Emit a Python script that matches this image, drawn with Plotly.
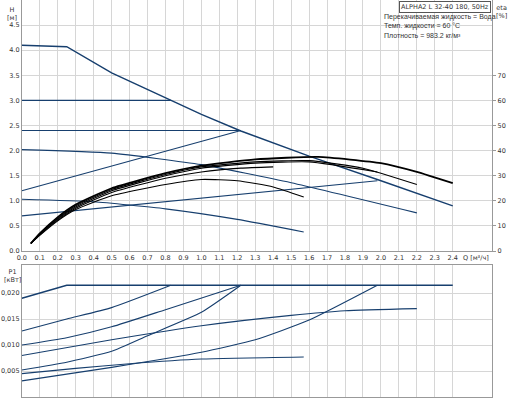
import plotly.graph_objects as go

# --- напор H [м] ---
q_max = [0, 0.25, 0.5, 0.83, 1.0, 1.22, 1.6, 2.0, 2.4]
h_max = [4.1, 4.07, 3.55, 3.0, 2.72, 2.39, 1.89, 1.4, 0.9]
q_cp3 = [0, 0.83]
h_cp3 = [3.0, 3.0]
q_cp24 = [0, 1.22]
h_cp24 = [2.4, 2.4]
q_pp1 = [0, 1.22]
h_pp1 = [1.2, 2.4]
q_pp2 = [0, 1.98]
h_pp2 = [0.7, 1.4]
q_cc1 = [0, 0.5, 1.0, 1.5, 2.2]
h_cc1 = [2.02, 1.95, 1.72, 1.36, 0.76]
q_cc2 = [0, 0.4, 0.8, 1.2, 1.57]
h_cc2 = [1.03, 0.98, 0.84, 0.63, 0.38]

# --- КПД eta [%] ---
q_eta = [0.05, 0.1, 0.2, 0.3, 0.5, 0.8, 1.0, 1.3, 1.65, 2.0, 2.2, 2.4]
eta_1 = [3, 7, 13.5, 18.5, 25, 31, 34, 36.5, 37.5, 35, 31.5, 27]
q_eta2 = [0.05, 0.1, 0.2, 0.3, 0.5, 0.8, 1.0, 1.3, 1.6, 1.9, 2.2]
eta_2 = [3, 6.8, 13, 18, 24.5, 30.5, 33.5, 35.5, 36, 33, 26.5]
q_eta3 = [0.05, 0.1, 0.2, 0.3, 0.5, 0.8, 1.0, 1.3, 1.6, 1.98]
eta_3 = [3, 6.6, 12.7, 17.5, 24, 30, 33, 35, 35.5, 31.5]
q_eta4 = [0.05, 0.1, 0.2, 0.3, 0.5, 0.8, 1.0, 1.22, 1.4]
eta_4 = [3, 6.4, 12.3, 17, 23.3, 29, 31.5, 33, 33.5]
q_eta5 = [0.05, 0.1, 0.2, 0.3, 0.5, 0.8, 1.0, 1.2, 1.4, 1.57]
eta_5 = [3, 6.2, 12, 16.5, 22, 26.5, 28.5, 28, 25.5, 21.5]

# --- мощность P1 [кВт] ---
p_series = [
    ([0, 0.25, 2.4], [0.019, 0.0215, 0.0215]),
    ([0, 0.25, 0.5, 0.83], [0.0127, 0.015, 0.0172, 0.0215]),
    ([0, 0.25, 0.5, 0.8, 1.22], [0.010, 0.0114, 0.0135, 0.0168, 0.0215]),
    ([0, 0.25, 0.5, 0.7, 1.0, 1.22], [0.0052, 0.0067, 0.0088, 0.0118, 0.0163, 0.0215]),
    ([0, 0.5, 1.0, 1.5, 1.8, 2.2], [0.008, 0.011, 0.0137, 0.0157, 0.0166, 0.017]),
    ([0, 0.5, 1.0, 1.3, 1.6, 1.98], [0.0031, 0.0057, 0.0086, 0.011, 0.0148, 0.0215]),
    ([0, 0.3, 0.6, 1.0, 1.57], [0.0045, 0.0055, 0.0064, 0.0073, 0.0077]),
]

x_ticks = [round(i * 0.1, 1) for i in range(25)]
x_text = [f"{v:.1f}" for v in x_ticks]

BLUE = "#173f6e"
fig = go.Figure()

def line(x, y, xa, ya, color=BLUE, width=1.1, shape="spline"):
    fig.add_trace(go.Scatter(x=x, y=y, xaxis=xa, yaxis=ya, mode="lines",
                             line=dict(color=color, width=width, shape=shape, smoothing=0.5),
                             showlegend=False, hoverinfo="skip"))

line(q_max, h_max, "x", "y", width=1.4, shape="linear")
for qx, hy in [(q_cp3, h_cp3), (q_cp24, h_cp24), (q_pp1, h_pp1), (q_pp2, h_pp2),
               (q_cc1, h_cc1), (q_cc2, h_cc2)]:
    line(qx, hy, "x", "y")
for qx, ey, w in [(q_eta, eta_1, 1.8), (q_eta2, eta_2, 1.1), (q_eta3, eta_3, 1.1),
                  (q_eta4, eta_4, 1.1), (q_eta5, eta_5, 1.1)]:
    line(qx, ey, "x", "y3", color="black", width=w)
for i, (qx, py) in enumerate(p_series):
    line(qx, py, "x2", "y2", width=1.4 if i == 0 else 1.1,
         shape="linear" if i == 0 else "spline")

font = dict(size=6.5, family="DejaVu Sans", color="#333")
grid = dict(showgrid=True, gridcolor="#d6d6d6", gridwidth=1, zeroline=False,
            showline=True, linecolor="#999", mirror=True, automargin=False,
            tickfont=font, ticks="")
fig.update_layout(
    width=508, height=400, margin=dict(l=0, r=0, t=0, b=0),
    paper_bgcolor="white", plot_bgcolor="white",
    xaxis=dict(domain=[0.043, 0.969], range=[0, 2.62], tickvals=x_ticks, ticktext=x_text,
               anchor="y", **grid),
    yaxis=dict(domain=[0.3725, 1.0], range=[0, 5.0], tickvals=[i * 0.5 for i in range(10)],
               ticktext=[f"{i*0.5:.1f}" for i in range(10)], **grid),
    yaxis3=dict(overlaying="y", side="right", range=[0, 100], tickvals=list(range(0, 80, 10)),
                showgrid=False, zeroline=False, tickfont=font, automargin=False,
                anchor="x", ticks="outside", ticklen=3, tickcolor="#999"),
    xaxis2=dict(domain=[0.043, 0.969], range=[0, 2.62], tickvals=x_ticks, showticklabels=False,
                anchor="y2", **grid),
    yaxis2=dict(domain=[0.0075, 0.3375], range=[0, 0.0254], anchor="x2",
                tickvals=[0, 0.005, 0.01, 0.015, 0.02],
                ticktext=["0", "0,005", "0,010", "0,015", "0,020"], **grid),
)

def note(text, x, y, xanchor="left", size=6.5, family="DejaVu Sans", **kw):
    fig.add_annotation(text=text, xref="paper", yref="paper", x=x / 508, y=1 - y / 400,
                       xanchor=xanchor, yanchor="middle", showarrow=False,
                       font=dict(size=size, family=family, color="#333"), **kw)

note("H<br>[м]", 12, 14, "center")
note("P1<br>[кВт]", 12, 276, "center")
note("Q [м³/ч]", 491, 258, "right")
note("eta<br>[%]", 494, 12, "left")
note("ALPHA2 L 32-40 180, 50Hz", 491, 7, "right", bordercolor="#555", borderwidth=1,
     borderpad=1, bgcolor="white")
note("Перекачиваемая жидкость = Вода", 382, 17, "left", size=7, family="Liberation Sans")
note("Темп. жидкости = 60 °C", 382, 26, "left", size=7, family="Liberation Sans")
note("Плотность = 983.2 кг/м³", 382, 35, "left", size=7, family="Liberation Sans")

fig.write_html("out.html", config={"displayModeBar": False},
               post_script="document.body.style.margin='0';")
